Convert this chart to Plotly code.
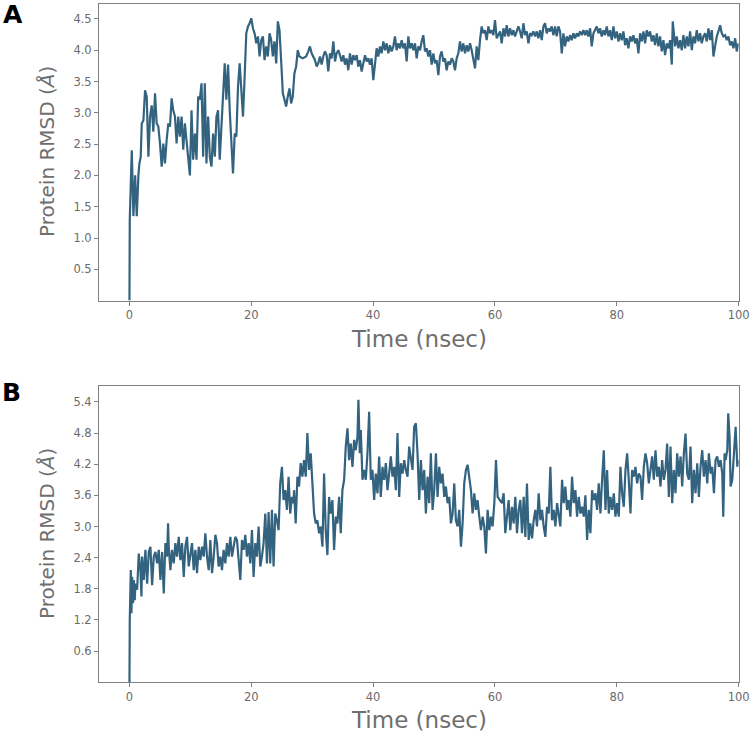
import plotly.graph_objects as go

# ---------------- Panel A : protein RMSD vs time ----------------
time_a = [
    0.00, 0.05, 0.38, 0.65, 0.93, 1.20, 1.47, 1.63, 1.85,
    2.02, 2.29, 2.56, 2.83, 3.11, 3.38, 3.65, 3.92, 4.20, 4.47,
    4.74, 5.01, 5.29, 5.56, 5.83, 6.10, 6.38, 6.65, 6.92, 7.19,
    7.47, 7.74, 8.01, 8.28, 8.56, 8.83, 9.10, 9.37, 9.65, 9.92,
    10.19, 10.46, 10.74, 11.01, 11.28, 11.55, 11.83, 12.10, 12.37, 12.64,
    12.92, 13.19, 13.46, 13.73, 14.01, 14.28, 14.55, 14.82, 15.10, 15.37,
    15.64, 15.91, 16.19, 16.46, 16.73, 17.00, 17.28, 17.55, 17.82, 18.09,
    18.37, 18.64, 18.91, 19.18, 19.46, 19.73, 20.00, 20.27, 20.54, 20.82,
    21.09, 21.36, 21.63, 21.91, 22.18, 22.45, 22.72, 23.00, 23.27, 23.54,
    23.81, 24.09, 24.36, 24.63, 24.90, 25.18, 25.45, 25.72, 25.99, 26.27,
    26.54, 26.81, 27.08, 27.36, 27.63, 27.90, 28.45, 28.99,
    29.36, 29.63, 29.91, 30.18, 30.46, 30.73, 31.00, 31.28, 31.55, 31.82,
    32.10, 32.37, 32.64, 32.92, 33.19, 33.47, 33.74, 34.01, 34.29, 34.56,
    34.83, 35.11, 35.38, 35.65, 35.93, 36.20, 36.48, 36.75, 37.02, 37.30,
    37.57, 37.84, 38.12, 38.39, 38.67, 38.94, 39.21, 39.49, 39.76, 40.03,
    40.31, 40.58, 40.85, 41.13, 41.40, 41.68, 41.95, 42.22, 42.50, 42.77,
    43.04, 43.32, 43.59, 43.86, 44.14, 44.41, 44.69, 44.96, 45.23, 45.51,
    45.78, 46.05, 46.33, 46.60, 46.88, 47.15, 47.42, 47.70, 47.97, 48.24,
    48.52, 48.79, 49.06, 49.34, 49.61, 49.89, 50.16, 50.43, 50.71, 50.98,
    51.25, 51.53, 51.80, 52.07, 52.35, 52.62, 52.90, 53.17, 53.44, 53.72,
    53.99, 54.26, 54.54, 54.81, 55.09, 55.36, 55.63, 55.91, 56.18, 56.45,
    56.73, 57.00, 57.27, 57.55, 57.82, 58.10, 58.37, 58.64, 58.92, 59.19,
    59.46, 59.74, 60.01, 60.29,
    60.84, 61.11, 61.39, 61.66, 61.93, 62.21, 62.48, 62.76, 63.03, 63.30,
    63.58, 63.85, 64.12, 64.40, 64.67, 64.95, 65.22, 65.49, 65.77, 66.04,
    66.31, 66.59, 66.86, 67.13, 67.41, 67.68, 67.96, 68.23, 68.50, 68.78,
    69.05, 69.32, 69.60, 69.87, 70.14, 70.42, 70.69, 70.97, 71.24, 71.51,
    71.79, 72.06, 72.33, 72.61, 72.88, 73.16, 73.43, 73.70, 73.98, 74.25,
    74.52, 74.80, 75.07, 75.34, 75.62, 75.89, 76.17, 76.44, 76.71, 76.99,
    77.26, 77.53, 77.81, 78.08, 78.35, 78.63, 78.90, 79.18, 79.45, 79.72,
    80.00, 80.27, 80.54, 80.82, 81.09, 81.37, 81.64, 81.91, 82.19, 82.46,
    82.73, 83.01, 83.28, 83.55, 83.83, 84.10, 84.38, 84.65, 84.92, 85.20,
    85.47, 85.74, 86.02, 86.29, 86.57, 86.84, 87.11, 87.39, 87.66, 87.93,
    88.21, 88.48, 88.75, 89.03, 89.19, 89.58, 89.85, 90.12, 90.40, 90.67,
    90.94, 91.22, 91.49, 91.76, 92.04, 92.31, 92.59, 92.86, 93.13, 93.41,
    93.68, 93.95, 94.23, 94.50, 94.78, 95.05, 95.32, 95.60, 95.87, 96.14,
    96.42, 96.69, 96.96, 97.24, 97.51, 97.79, 98.06, 98.33, 98.61, 98.88,
    99.15, 99.43, 99.70, 99.97,
]
rmsd_a = [
    0.00, 1.29, 2.40, 1.35, 2.00, 1.35, 2.00, 2.19, 2.30,
    2.83, 2.88, 3.36, 3.26, 2.30, 2.94, 3.12, 2.70, 3.31, 2.83,
    2.78, 2.51, 2.14, 2.51, 2.19, 2.56, 2.83, 2.78, 3.23, 3.04,
    2.94, 2.51, 2.94, 2.62, 2.94, 2.41, 2.83, 2.56, 2.25, 2.00,
    3.04, 2.25, 2.67, 2.25, 3.26, 3.21, 3.47, 2.30, 3.47, 2.19,
    2.94, 2.30, 2.14, 2.67, 2.30, 2.94, 3.04, 2.25, 2.78, 3.26,
    3.79, 3.21, 3.77, 3.04, 2.41, 2.03, 2.67, 2.62, 3.42, 3.79,
    3.36, 2.94, 3.58, 4.27, 4.38, 4.43, 4.51, 4.35, 4.27, 4.11,
    4.22, 3.90, 4.16, 4.22, 3.84, 4.06, 3.90, 4.27, 4.16, 3.90,
    4.14, 3.79, 4.46, 4.32, 3.84, 3.31, 3.21, 3.10, 3.26, 3.39,
    3.15, 3.26, 3.63, 3.74, 4.00, 3.90, 3.87, 3.90,
    3.98, 4.06, 3.95, 3.90, 3.84, 3.74, 3.79, 3.90, 3.77, 3.90,
    3.98, 3.92, 3.66, 3.95, 3.87, 4.14, 3.82, 3.95, 4.00, 3.92,
    3.82, 3.92, 3.77, 3.87, 3.68, 3.95, 3.77, 3.92, 3.84, 3.92,
    3.74, 3.84, 3.66, 3.79, 3.92, 3.82, 3.87, 3.77, 3.87, 3.52,
    3.82, 4.03, 3.90, 4.06, 3.95, 4.14, 4.00, 4.11, 3.95, 4.08,
    3.98, 4.06, 4.22, 4.00, 4.11, 4.03, 4.16, 4.03, 4.11, 3.82,
    4.22, 4.03, 4.11, 4.00, 4.11, 3.87, 4.06, 4.00, 4.14, 4.24,
    3.98, 4.03, 3.90, 4.00, 3.77, 3.95, 3.79, 3.84, 3.60, 3.90,
    3.98, 3.82, 3.87, 3.68, 3.82, 3.77, 3.87, 3.82, 3.68, 3.87,
    3.95, 4.14, 3.98, 4.11, 3.95, 4.08, 3.98, 4.11, 4.00, 3.87,
    3.71, 4.06, 3.84, 4.16, 4.38, 4.27, 4.32, 4.16, 4.38, 4.27,
    4.32, 4.24, 4.48, 4.19,
    4.30, 4.11, 4.35, 4.22, 4.40, 4.22, 4.35, 4.24, 4.32, 4.22,
    4.32, 4.38, 4.30, 4.19, 4.43, 4.24, 4.30, 4.11, 4.27, 4.24,
    4.30, 4.22, 4.30, 4.19, 4.32, 4.16, 4.38, 4.43, 4.27, 4.35,
    4.30, 4.38, 4.24, 4.38, 4.22, 4.38, 4.30, 3.95, 4.27, 4.06,
    4.22, 4.14, 4.24, 4.16, 4.27, 4.19, 4.27, 4.22, 4.30, 4.24,
    4.32, 4.24, 4.32, 4.22, 4.35, 4.06, 4.27, 4.32, 4.38, 4.27,
    4.35, 4.22, 4.32, 4.24, 4.38, 4.22, 4.32, 4.16, 4.38, 4.19,
    4.30, 4.14, 4.27, 4.16, 4.30, 4.08, 4.19, 4.03, 4.22, 4.14,
    4.24, 4.11, 4.19, 3.95, 4.27, 4.14, 4.30, 4.11, 4.32, 4.22,
    4.30, 4.14, 4.24, 4.08, 4.27, 4.06, 4.22, 3.98, 4.16, 3.92,
    4.11, 4.03, 4.16, 3.77, 4.46, 4.06, 4.22, 4.03, 4.16, 4.00,
    4.24, 4.03, 4.22, 4.06, 4.30, 4.00, 4.22, 4.11, 4.32, 4.14,
    4.27, 4.11, 4.22, 4.27, 4.14, 4.35, 4.16, 4.32, 3.90, 4.06,
    4.22, 4.30, 4.40, 4.27, 4.22, 4.24, 4.16, 4.22, 4.08, 4.14,
    4.03, 4.19, 3.98, 4.11,
]

# ---------------- Panel B : protein RMSD vs time ----------------
time_b = [
    0.00, 0.05, 0.22, 0.33, 0.44, 0.60, 0.71, 0.87, 0.98, 1.26,
    1.53, 1.80, 1.97, 2.08, 2.35, 2.62, 2.90, 3.17, 3.44, 3.72,
    3.99, 4.26, 4.54, 4.81, 5.08, 5.36, 5.63, 5.90, 6.17, 6.34,
    6.45, 6.72, 6.99, 7.27, 7.54, 7.81, 8.09, 8.36, 8.63, 8.91,
    9.18, 9.45, 9.73, 10.00, 10.27, 10.55, 10.82, 11.09, 11.37, 11.64,
    11.91, 12.19, 12.46, 12.73, 13.01, 13.28, 13.55, 13.83, 14.10, 14.37,
    14.64, 14.92, 15.19, 15.46, 15.74, 16.01, 16.28, 16.56, 16.83, 17.10,
    17.38, 17.65, 17.92, 18.20, 18.47, 18.74, 19.02, 19.29, 19.56, 19.84,
    20.11, 20.38, 20.66, 20.93, 21.20, 21.48, 21.75, 22.02, 22.30, 22.57,
    22.84, 23.11, 23.39, 23.66, 23.93, 24.21, 24.48, 24.75, 25.03, 25.30,
    25.57, 25.85, 26.12, 26.39, 26.67, 26.94,
    27.02, 27.29, 27.57, 27.84, 28.11, 28.39, 28.66, 28.94, 29.21, 29.48,
    29.76, 30.03, 30.31, 30.58, 30.85, 31.13, 31.40, 31.68, 31.95, 32.22,
    32.50, 32.77, 33.05, 33.32, 33.59, 33.87, 34.14, 34.42, 34.69, 34.96,
    35.24, 35.51, 35.79, 36.06, 36.33, 36.61, 36.88, 37.15, 37.43, 37.59,
    37.81, 37.98, 38.25, 38.52, 38.80, 39.07, 39.35, 39.62, 39.89, 40.17,
    40.44, 40.72, 40.99, 41.26, 41.54, 41.81, 42.09, 42.36, 42.63, 42.91,
    43.18, 43.46, 43.73, 44.00, 44.28, 44.55, 44.83, 45.10, 45.37, 45.65,
    45.92, 46.20, 46.47, 46.74, 47.02, 47.29, 47.57, 47.84, 48.11, 48.39,
    48.66, 48.94, 49.21, 49.48, 49.76, 50.03, 50.31, 50.58, 50.85, 51.13,
    51.40, 51.68, 51.95, 52.22, 52.50, 52.77, 53.05, 53.32, 53.59, 53.87,
    54.14, 54.42, 54.69, 54.96, 55.24, 55.51, 55.79, 56.06, 56.33, 56.61,
    56.88, 57.15, 57.43, 57.70, 57.98, 58.25, 58.52, 58.80, 59.07, 59.35,
    59.62, 59.90, 60.17, 60.44,
    61.15, 61.43, 61.70, 61.98, 62.25, 62.52, 62.80, 63.07, 63.35, 63.62,
    63.89, 64.17, 64.44, 64.72, 64.99, 65.26, 65.54, 65.81, 66.09, 66.36,
    66.63, 66.91, 67.18, 67.46, 67.73, 68.00, 68.28, 68.55, 68.83, 69.10,
    69.37, 69.65, 69.92, 70.20, 70.47, 70.74, 71.02, 71.29, 71.56, 71.84,
    72.11, 72.39, 72.66, 72.93, 73.21, 73.48, 73.76, 74.03, 74.30, 74.58,
    74.85, 75.13, 75.40, 75.67, 75.95, 76.22, 76.50, 76.77, 77.04, 77.32,
    77.59, 77.87, 78.14, 78.41, 78.69, 78.96, 79.24, 79.51, 79.78, 80.06,
    80.33, 80.60, 80.88, 81.15, 81.43, 81.70, 81.97, 82.25, 82.52, 82.79,
    83.07, 83.34, 83.62, 83.89, 84.16, 84.44, 84.71, 84.99, 85.26, 85.53,
    85.81, 86.08, 86.36, 86.63, 86.90, 87.18, 87.45, 87.73, 88.00, 88.27,
    88.55, 88.82, 89.10, 89.37, 89.64, 89.92, 90.19, 90.47, 90.74, 91.01,
    91.29, 91.56, 91.84, 92.11, 92.38, 92.66, 92.93, 93.21, 93.48, 93.75,
    94.03, 94.30, 94.58, 94.85, 95.12, 95.40, 95.67, 95.95, 96.22, 96.49,
    96.77, 97.04, 97.32, 97.48, 97.70, 97.86, 98.14, 98.30, 98.52, 98.69,
    98.96, 99.24, 99.51, 99.79, 100.00,
]
rmsd_b = [
    0.00, 1.20, 2.16, 1.33, 2.03, 1.52, 1.97, 1.58, 1.90, 1.78,
    2.48, 2.16, 1.65, 2.42, 1.97, 2.55, 1.90, 2.51, 2.61, 1.87,
    2.42, 2.51, 2.29, 2.55, 1.97, 2.51, 1.71, 2.68, 2.42, 3.06,
    2.61, 2.16, 2.55, 2.29, 2.68, 2.42, 2.80, 2.35, 2.68, 2.03,
    2.61, 2.80, 2.23, 2.42, 2.68, 2.16, 2.55, 2.10, 2.61, 2.35,
    2.61, 2.42, 2.87, 2.42, 2.16, 2.74, 2.10, 2.42, 2.84, 2.68,
    2.23, 2.42, 2.16, 2.55, 2.29, 2.68, 2.42, 2.80, 2.42, 2.61,
    2.80, 2.74, 2.35, 1.97, 2.74, 2.55, 2.84, 2.42, 2.68, 2.29,
    2.93, 2.03, 2.68, 2.42, 3.00, 2.23, 2.42, 2.68, 3.25, 2.29,
    3.28, 2.29, 3.32, 2.23, 3.25, 3.12, 2.93, 3.83, 4.15, 3.51,
    3.70, 3.32, 3.96, 3.25, 3.57, 3.45,
    3.70, 3.06, 3.96, 3.77, 4.22, 3.96, 4.28, 3.96, 4.80, 4.09,
    4.41, 3.90, 3.25, 3.06, 3.12, 2.87, 3.00, 2.61, 4.02, 2.93,
    2.45, 3.57, 3.25, 3.51, 2.55, 3.19, 3.06, 3.57, 2.87, 3.70,
    3.90, 4.54, 4.89, 4.28, 4.60, 4.15, 4.67, 4.47, 4.73, 5.44,
    4.41, 4.86, 3.90, 4.09, 3.90, 4.41, 5.21, 3.90, 4.09, 3.51,
    4.02, 3.64, 4.35, 3.57, 4.15, 3.90, 4.22, 3.70, 4.09, 4.35,
    3.96, 4.15, 3.70, 4.80, 3.57, 4.22, 4.02, 4.28, 4.09, 3.96,
    4.54, 4.35, 4.09, 4.92, 4.99, 4.41, 3.51, 4.28, 3.70, 4.09,
    3.25, 3.96, 3.45, 4.41, 3.32, 3.70, 4.41, 3.57, 4.15, 3.83,
    4.02, 3.57, 3.77, 3.45, 3.57, 3.06, 3.25, 3.83, 3.12, 3.00,
    3.32, 2.61, 3.06, 3.83, 4.09, 4.19, 3.96, 3.70, 3.25, 3.64,
    3.32, 3.51, 3.19, 2.93, 3.19, 3.00, 2.48, 3.32, 2.93, 3.19,
    3.00, 3.45, 4.28, 3.57,
    3.45, 3.64, 2.87, 3.25, 3.51, 2.93, 3.38, 3.06, 3.57, 2.87,
    3.32, 3.51, 2.87, 3.57, 2.80, 3.83, 2.74, 3.06, 2.77, 3.12,
    3.32, 3.00, 3.64, 3.12, 3.32, 3.00, 2.80, 3.38, 3.25, 4.15,
    3.12, 3.32, 3.00, 3.45, 3.25, 3.00, 3.90, 3.45, 3.77, 3.32,
    3.51, 3.19, 3.96, 3.45, 3.70, 3.19, 3.57, 3.25, 3.38, 3.19,
    3.60, 2.74, 3.32, 2.87, 3.70, 3.51, 3.64, 3.32, 3.83, 3.25,
    3.90, 4.47, 3.32, 4.09, 3.25, 3.57, 3.32, 3.64, 3.19, 3.45,
    3.19, 4.15, 3.64, 3.38, 4.09, 4.41, 3.90, 3.25, 4.09, 3.96,
    4.15, 3.83, 4.02, 3.96, 3.51, 4.15, 4.41, 4.22, 3.83, 4.09,
    4.35, 3.90, 4.47, 3.96, 4.15, 3.77, 4.28, 3.90, 4.09, 4.60,
    3.57, 4.54, 3.45, 4.09, 3.64, 4.41, 3.96, 4.35, 3.77, 4.41,
    4.79, 4.02, 3.90, 4.54, 3.45, 4.09, 3.64, 4.22, 3.57, 4.15,
    4.47, 3.96, 4.28, 3.83, 4.41, 4.02, 4.15, 3.64, 4.28, 4.35,
    4.15, 4.28, 4.02, 3.19, 4.41, 4.28, 4.47, 5.18, 4.73, 3.77,
    3.90, 4.41, 4.92, 4.15, 4.28,
]

assert len(time_a) == len(rmsd_a), (len(time_a), len(rmsd_a))
assert len(time_b) == len(rmsd_b), (len(time_b), len(rmsd_b))

x_ticks = [0, 20, 40, 60, 80, 100]
y_ticks_a = [0.5, 1.0, 1.5, 2.0, 2.5, 3.0, 3.5, 4.0, 4.5]
y_ticks_b = [0.6, 1.2, 1.8, 2.4, 3.0, 3.6, 4.2, 4.8, 5.4]
panel_labels = ["A", "B"]
x_title = "Time (nsec)"
y_title = "Protein RMSD (<i>Å</i>)"

LINE_COLOR = "#346380"
AX_COLOR = "#808080"
TICK_FONT = dict(family="DejaVu Sans", size=11.5, color="#6b6b6b")
TITLE_FONT = dict(family="DejaVu Sans", size=23, color="#6e6e6e")

W, H = 752, 735
def px(v):
    return v / W
def py(v):
    return 1 - v / H

fig = go.Figure()
fig.add_trace(go.Scatter(x=time_a, y=rmsd_a, mode="lines",
                         line=dict(color=LINE_COLOR, width=2.2),
                         xaxis="x", yaxis="y", showlegend=False, hoverinfo="skip"))
fig.add_trace(go.Scatter(x=time_b, y=rmsd_b, mode="lines",
                         line=dict(color=LINE_COLOR, width=2.2),
                         xaxis="x2", yaxis="y2", showlegend=False, hoverinfo="skip"))

common = dict(showline=True, linecolor=AX_COLOR, linewidth=1, mirror=True,
              ticks="outside", ticklen=4, tickwidth=1, tickcolor=AX_COLOR,
              tickfont=TICK_FONT, showgrid=False, zeroline=False, automargin=False)

xdom = [px(99.0), px(738.6)]
fig.update_layout(
    width=W, height=H,
    margin=dict(l=0, r=0, t=0, b=0, pad=0),
    paper_bgcolor="white", plot_bgcolor="white",
    xaxis=dict(domain=xdom, anchor="y", range=[-5, 100], tickvals=x_ticks, **common),
    yaxis=dict(domain=[py(300.6), py(4)], anchor="x", range=[0, 4.738],
               tickvals=y_ticks_a, tickformat=".1f", **common),
    xaxis2=dict(domain=xdom, anchor="y2", range=[-5, 100], tickvals=x_ticks, **common),
    yaxis2=dict(domain=[py(682.2), py(385.7)], anchor="x2", range=[0, 5.713],
                tickvals=y_ticks_b, tickformat=".1f", **common),
)

ann = []
# x-axis titles
for yc in (339, 720):
    ann.append(dict(text=x_title, x=px(418.8), y=py(yc), xref="paper", yref="paper",
                    xanchor="center", yanchor="middle", showarrow=False, font=TITLE_FONT))
# y-axis titles
for yc in (152, 534):
    ann.append(dict(text=y_title, x=px(47), y=py(yc), xref="paper", yref="paper",
                    xanchor="center", yanchor="middle", showarrow=False, textangle=-90,
                    font=dict(family="DejaVu Sans", size=20, color="#6e6e6e")))
# panel letters
for lab, (xc, yc) in zip(panel_labels, [(13, 14), (12, 392)]):
    ann.append(dict(text="<b>" + lab + "</b>", x=px(xc), y=py(yc), xref="paper", yref="paper",
                    xanchor="center", yanchor="middle", showarrow=False,
                    font=dict(family="DejaVu Sans", size=25, color="black")))
fig.update_layout(annotations=ann)

fig.write_html("out.html", config={"displayModeBar": False},
               post_script="document.body.style.margin='0';document.body.style.padding='0';")
